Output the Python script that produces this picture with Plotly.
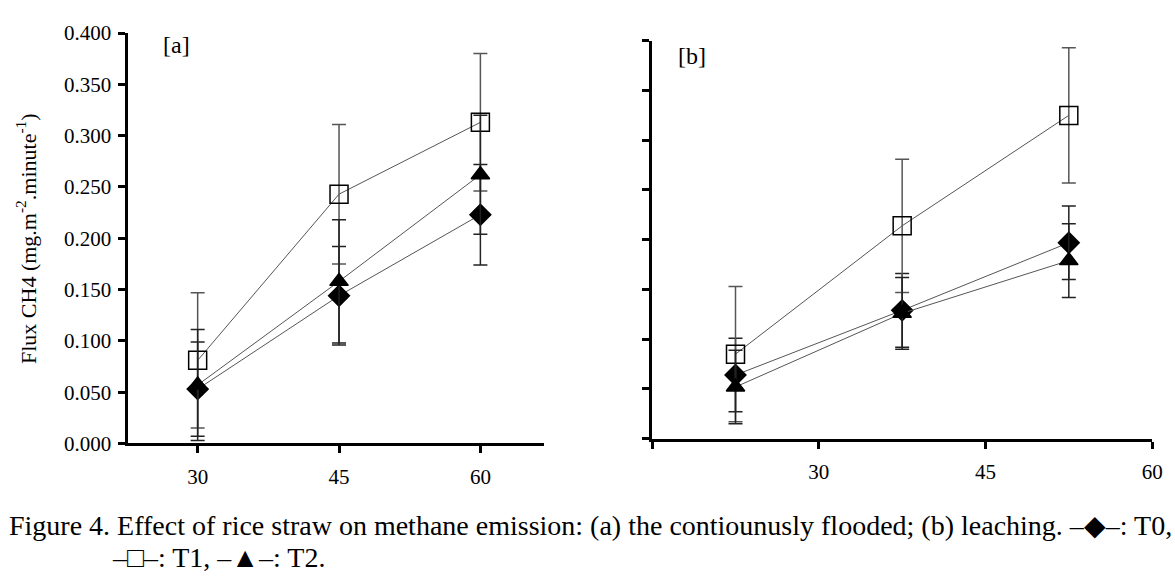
import plotly.graph_objects as go

W, H = 1175, 583

# ---- data ----
days_a = [30, 45, 60]
days_b = [22.5, 37.5, 52.5]

a_T0 = [0.053, 0.144, 0.223]
a_T0_err = [0.046, 0.048, 0.049]
a_T1 = [0.081, 0.243, 0.313]
a_T1_err = [0.066, 0.068, 0.067]
a_T2 = [0.057, 0.158, 0.262]
a_T2_err = [0.054, 0.060, 0.058]

b_T0 = [0.064, 0.129, 0.197]
b_T0_err = [0.037, 0.037, 0.037]
b_T1 = [0.085, 0.214, 0.325]
b_T1_err = [0.068, 0.067, 0.068]
b_T2 = [0.052, 0.126, 0.179]
b_T2_err = [0.037, 0.036, 0.037]

y_ticks = [0.0, 0.05, 0.10, 0.15, 0.20, 0.25, 0.30, 0.35, 0.40]
x_ticks_a = [30, 45, 60]
x_ticks_b = [15, 30, 45, 60]
x_ticktext_b = [" ", "30", "45", "60"]

FONT = "Liberation Serif"

def px_x(p):
    return p / W

def px_y(p):
    return 1 - p / H

fig = go.Figure()

series = [
    ("T0", "diamond", 16, "#000000", "#222222"),
    ("T1", "square-open", 18, "#000000", "#555555"),
    ("T2", "triangle-up", 16, "#000000", "#222222"),
]
data_a = {"T0": (a_T0, a_T0_err), "T1": (a_T1, a_T1_err), "T2": (a_T2, a_T2_err)}
data_b = {"T0": (b_T0, b_T0_err), "T1": (b_T1, b_T1_err), "T2": (b_T2, b_T2_err)}

for xs, data, xa, ya in [(days_a, data_a, "x", "y"), (days_b, data_b, "x2", "y2")]:
    for name, sym, size, mcol, ecol in series:
        vals, errs = data[name]
        fig.add_trace(go.Scatter(
            x=xs, y=vals, name=name, mode="lines+markers",
            xaxis=xa, yaxis=ya, showlegend=False,
            line=dict(color="#555555", width=1),
            marker=dict(symbol=sym, size=size, color=mcol,
                        line=dict(color="#000000", width=1.5)),
            error_y=dict(type="data", array=errs, visible=True,
                         color=ecol, thickness=1.5, width=7),
        ))

axis_common = dict(
    showline=True, linecolor="black", linewidth=3,
    ticks="outside", ticklen=7, tickwidth=3, tickcolor="black",
    showgrid=False, zeroline=False,
    tickfont=dict(family=FONT, size=21, color="black"),
)

fig.update_layout(
    width=W, height=H,
    margin=dict(l=0, r=0, t=0, b=0),
    paper_bgcolor="white", plot_bgcolor="white",
    xaxis=dict(domain=[px_x(127), px_x(548)], range=[22.66, 66.8],
               tickvals=x_ticks_a, anchor="y", ticklabelstandoff=5, **axis_common),
    yaxis=dict(domain=[px_y(450), px_y(22)], range=[0, 0.4],
               tickvals=y_ticks, tickformat=".3f", anchor="x", ticklabelstandoff=3,
               **axis_common),
    xaxis2=dict(domain=[px_x(657), px_x(1163)], range=[15, 60],
                tickvals=x_ticks_b, ticktext=x_ticktext_b, anchor="y2",
                ticklabelstandoff=5, **axis_common),
    yaxis2=dict(domain=[px_y(445), px_y(30)], range=[0, 0.4],
                tickvals=y_ticks, showticklabels=False, anchor="x2", **axis_common),
)

ann = []
ann.append(dict(text="[a]", x=px_x(176), y=px_y(34), xref="paper", yref="paper",
                xanchor="center", yanchor="middle",
                showarrow=False, font=dict(family=FONT, size=24, color="black")))
ann.append(dict(text="[b]", x=px_x(697), y=px_y(46), xref="paper", yref="paper",
                xanchor="center", yanchor="middle",
                showarrow=False, font=dict(family=FONT, size=24, color="black")))
ann.append(dict(text="Flux CH4 (mg.m<sup>-2</sup>.minute<sup>-1</sup>)",
                x=px_x(24), y=px_y(236), xref="paper", yref="paper",
                xanchor="center", yanchor="middle",
                textangle=-90, showarrow=False,
                font=dict(family=FONT, size=22, color="black")))
ann.append(dict(text="Figure 4. Effect of rice straw on methane emission: (a) the contiounusly flooded; (b) leaching. –◆–: T0,",
                x=px_x(4), y=px_y(536), xref="paper", yref="paper",
                xanchor="left", yanchor="middle", showarrow=False,
                font=dict(family=FONT, size=28, color="black")))
ann.append(dict(text="–□–: T1, –▲–: T2.",
                x=px_x(108), y=px_y(569), xref="paper", yref="paper",
                xanchor="left", yanchor="middle", showarrow=False,
                font=dict(family=FONT, size=28, color="black")))
fig.update_layout(annotations=ann)

fig.write_html("out.html", config={"displayModeBar": False})
